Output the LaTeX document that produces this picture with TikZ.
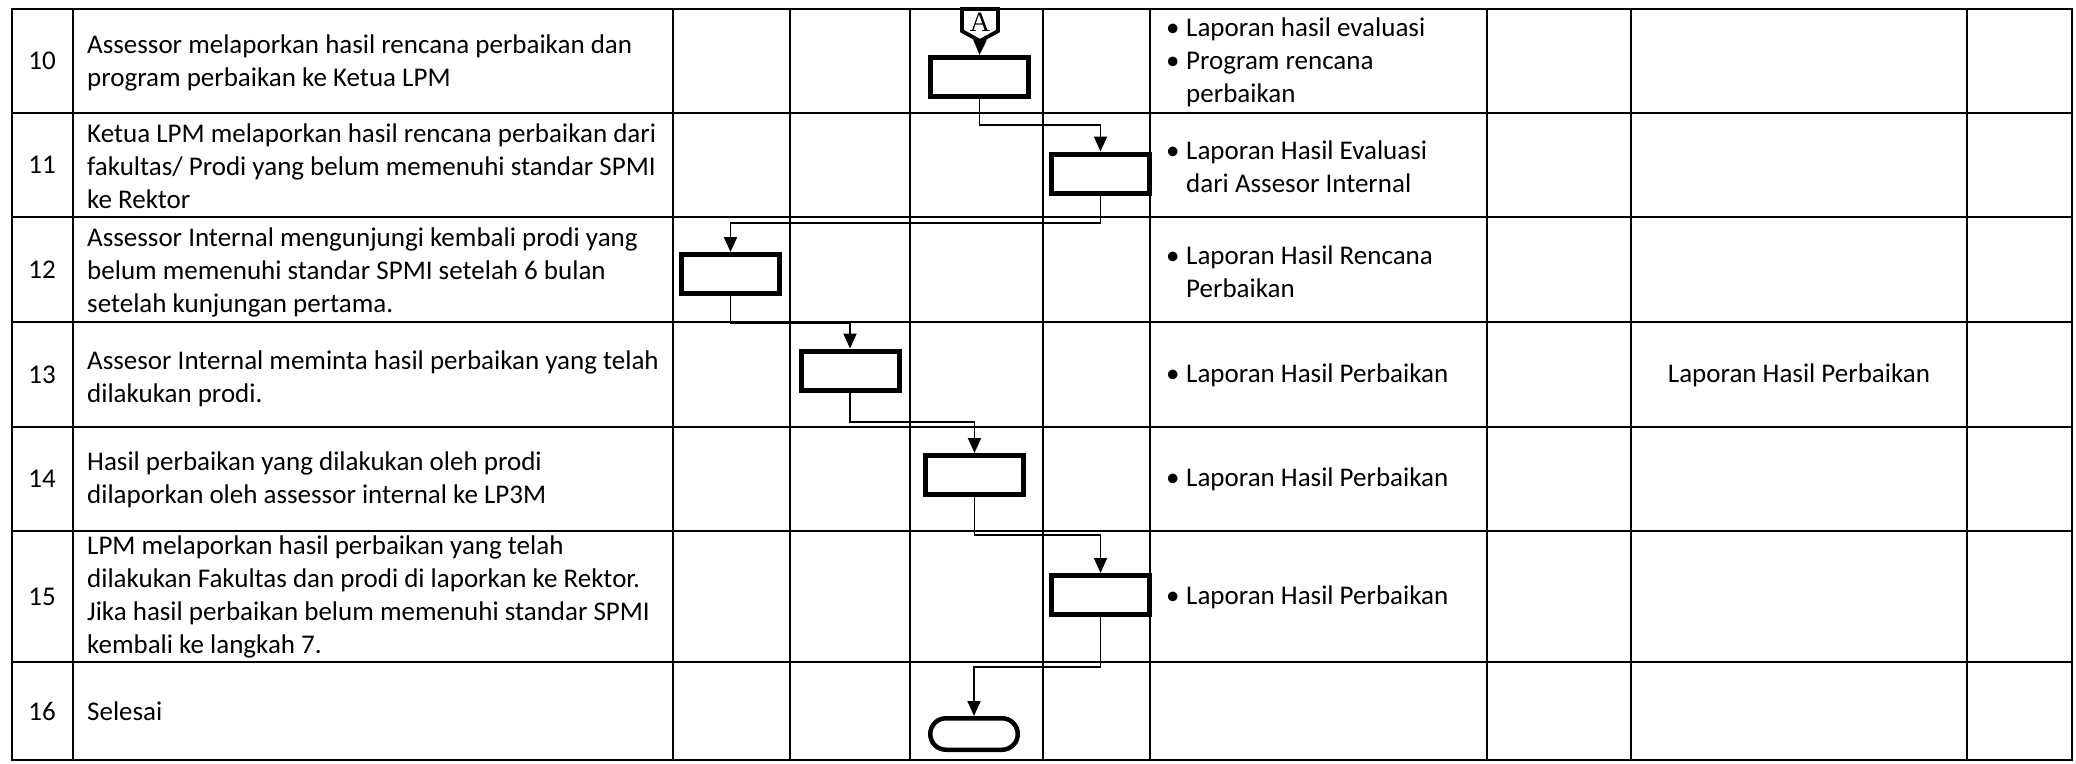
\documentclass[tikz,border=0pt]{standalone}
\usepackage{fontspec}
\setmainfont{Carlito}
\newfontfamily\serifA{Liberation Serif}
\usetikzlibrary{arrows.meta}
\newcommand{\bul}{\makebox[20pt][l]{\textbullet}}
\newcommand{\ind}{\hspace*{20pt}}
\begin{document}
\begin{tikzpicture}[x=1pt,y=-1pt,
  grid/.style={line width=2.6pt},
  stepbox/.style={draw, line width=5pt, fill=white, minimum width=98pt, minimum height=39pt, inner sep=0pt},
  endbox/.style={draw, line width=4.5pt, fill=white, minimum width=87.5pt, minimum height=31.5pt, rounded corners=15.7pt, inner sep=0pt},
  flow/.style={line width=1.9pt, -{Triangle[length=15pt,width=13pt]}},
  txt/.style={anchor=west, align=left, inner sep=0pt, font=\fontsize{27}{33}\selectfont},
  num/.style={inner sep=0pt, font=\fontsize{27}{33}\selectfont},
  offpage/.style={line width=3.8pt, line join=miter, fill=white}
]
\useasboundingbox (0,0) rectangle (2076,763);
\fill[white] (0,0) rectangle (2076,763);

% grid
\draw[grid] (12,9) rectangle (2072,760);
\foreach \y in {113,217,322,427,531,662} \draw[grid] (12,\y) -- (2072,\y);
\foreach \x in {73,673,790,910,1043,1150,1487,1631,1967} \draw[grid] (\x,9) -- (\x,760);

% step numbers
\node[num] (n10) at (42,61) {10};
\node[num] (n11) at (42,165) {11};
\node[num] (n12) at (42,269.5) {12};
\node[num] (n13) at (42,374.5) {13};
\node[num] (n14) at (42,479) {14};
\node[num] (n15) at (42,596.5) {15};
\node[num] (n16) at (42,711) {16};

% descriptions
\node[txt] (t10) at (87,63) {Assessor melaporkan hasil rencana perbaikan dan\\program perbaikan ke Ketua LPM};
\node[txt] (t11) at (87,166) {Ketua LPM melaporkan hasil rencana perbaikan dari\\fakultas/ Prodi yang belum memenuhi standar SPMI\\ke Rektor};
\node[txt] (t12) at (87,272) {Assessor Internal mengunjungi kembali prodi yang\\belum memenuhi standar SPMI setelah 6 bulan\\setelah kunjungan pertama.};
\node[txt] (t13) at (87,379) {Assesor Internal meminta hasil perbaikan yang telah\\dilakukan prodi.};
\node[txt] (t14) at (87,480) {Hasil perbaikan yang dilakukan oleh prodi\\dilaporkan oleh assessor internal ke LP3M};
\node[txt] (t15) at (87,597) {LPM melaporkan hasil perbaikan yang telah\\dilakukan Fakultas dan prodi di laporkan ke Rektor.\\Jika hasil perbaikan belum memenuhi standar SPMI\\kembali ke langkah 7.};
\node[txt] (t16) at (87,711) {Selesai};

% documents column
\node[txt] (d10) at (1166,62) {\bul Laporan hasil evaluasi\\\bul Program rencana\\\ind perbaikan};
\node[txt] (d11) at (1166,166.5) {\bul Laporan Hasil Evaluasi\\\ind dari Assesor Internal};
\node[txt] (d12) at (1166,272) {\bul Laporan Hasil Rencana\\\ind Perbaikan};
\node[txt] (d13) at (1166,375) {\bul Laporan Hasil Perbaikan};
\node[txt] (d14) at (1166,479) {\bul Laporan Hasil Perbaikan};
\node[txt] (d15) at (1166,597) {\bul Laporan Hasil Perbaikan};
\node[num] (r13) at (1799,375) {Laporan Hasil Perbaikan};

% bend levels
\coordinate (j1) at (0,125);
\coordinate (j2) at (0,223);
\coordinate (j3) at (0,323);
\coordinate (j4) at (0,422);
\coordinate (j5) at (0,535);
\coordinate (j6) at (0,667);

% process boxes
\node[stepbox] (b10) at (979.5,77) {};
\node[stepbox] (b11) at (1100.5,173.5) {};
\node[stepbox] (b12) at (730.5,274) {};
\node[stepbox] (b13) at (850,370.5) {};
\node[stepbox] (b14) at (974.5,475) {};
\node[stepbox] (b15) at (1100.5,595) {};
\node[endbox] (term) at (974,734) {};

% off-page connector A
\draw[offpage] (962,9) -- (998,9) -- (998,31) -- (980,41) -- (962,31) -- cycle;
\node[inner sep=0pt, font=\serifA\fontsize{28}{28}\selectfont] (A) at (980,22) {A};
\coordinate (Atip) at (980,39);

% connectors
\draw[flow] (Atip) -- (b10.north);
\draw[flow] (b10.south) -- (b10.south |- j1) -| (b11.north);
\draw[flow] (b11.south) -- (b11.south |- j2) -| (b12.north);
\draw[flow] (b12.south) -- (b12.south |- j3) -| (b13.north);
\draw[flow] (b13.south) -- (b13.south |- j4) -| (b14.north);
\draw[flow] (b14.south) -- (b14.south |- j5) -| (b15.north);
\draw[flow] (b15.south) -- (b15.south |- j6) -| (term.north);
\end{tikzpicture}
\end{document}
